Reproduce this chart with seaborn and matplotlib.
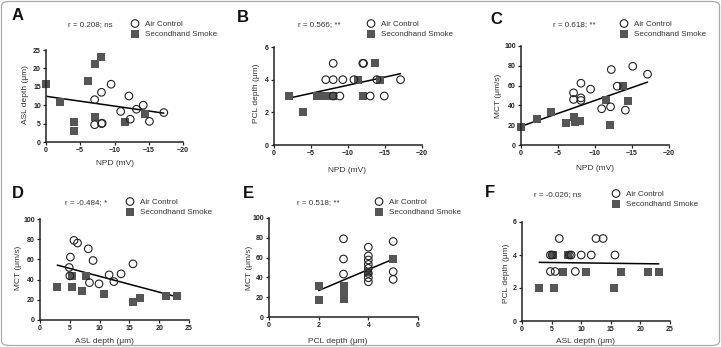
import matplotlib
matplotlib.use("Agg")
import matplotlib.pyplot as plt
import seaborn as sns
import pandas as pd
import numpy as np
from matplotlib.patches import FancyBboxPatch

# ---------------- data ----------------
# Panel A: NPD (mV) vs ASL depth (um)
A_air_x = [-7.1, -8.1, -9.5, -12.1, -10.9, -12.3, -13.2, -14.2, -15.1, -17.2, -7.1, -8.1, -8.2]
A_air_y = [11.5, 13.5, 15.7, 12.5, 8.3, 6.2, 8.9, 10.0, 5.6, 8.0, 4.7, 5.0, 5.1]
A_shs_x = [0.0, -2.1, -4.1, -4.1, -6.1, -7.1, -8.1, -7.1, -11.5, -14.5]
A_shs_y = [15.7, 10.8, 5.3, 2.9, 16.6, 21.1, 23.0, 6.9, 5.3, 7.7]

# Panel B: NPD (mV) vs PCL depth (um)
B_air_x = [-8.0, -12.0, -12.1, -7.0, -8.0, -9.3, -10.8, -13.9, -17.1, -8.9, -13.0, -14.9, -8.0]
B_air_y = [5, 5, 5, 4, 4, 4, 4, 4, 4, 3, 3, 3, 3]
B_shs_x = [-2.0, -5.8, -6.5, -7.2, -8.0, -12.0, -11.4, -14.3, -13.7, -3.9]
B_shs_y = [3, 3, 3, 3, 3, 3, 4, 4, 5, 2]

# Panel C: NPD (mV) vs MCT (um/s)
C_air_x = [-7.1, -7.1, -8.1, -8.1, -8.1, -9.4, -10.9, -12.1, -12.2, -13.0, -14.1, -15.1, -17.1]
C_air_y = [52.7, 46.0, 62.4, 47.6, 45.0, 56.4, 36.6, 38.6, 76.2, 59.4, 35.2, 79.5, 71.5]
C_shs_x = [0.0, -2.1, -4.0, -6.1, -7.1, -7.3, -8.0, -11.5, -12.0, -13.8, -14.5]
C_shs_y = [17.8, 25.8, 32.9, 21.8, 27.9, 23.5, 24.2, 45.3, 20.0, 59.4, 44.6]

# Panel D: ASL depth (um) vs MCT (um/s)
D_air_x = [5.7, 6.3, 8.1, 5.1, 8.9, 4.9, 5.0, 8.3, 9.9, 11.6, 12.4, 13.6, 15.6]
D_air_y = [78.8, 76.2, 70.5, 62.3, 58.9, 52.0, 43.7, 37.0, 35.8, 44.7, 38.0, 45.7, 55.6]
D_shs_x = [2.9, 5.3, 5.3, 7.0, 7.7, 10.8, 15.6, 16.7, 21.1, 23.0]
D_shs_y = [32.5, 32.5, 43.7, 29.1, 43.7, 25.8, 17.5, 21.5, 23.8, 23.8]

# Panel E: PCL depth (um) vs MCT (um/s)
E_air_x = [3, 3, 3, 4, 4, 4, 4, 4, 4, 4, 4, 5, 5, 5]
E_air_y = [79.0, 58.6, 43.4, 70.5, 61.7, 57.6, 53.2, 49.2, 44.0, 39.7, 35.6, 76.3, 45.8, 38.0]
E_shs_x = [2, 2, 3, 3, 3, 3, 3, 3, 4, 5]
E_shs_y = [31.5, 17.0, 31.0, 29.0, 27.0, 23.0, 21.0, 18.6, 45.0, 58.6]

# Panel F: ASL depth (um) vs PCL depth (um)
F_air_x = [6.3, 12.5, 13.7, 4.8, 5.1, 8.0, 8.3, 10.0, 11.7, 15.7, 4.8, 5.6, 9.0]
F_air_y = [5, 5, 5, 4, 4, 4, 4, 4, 4, 4, 3, 3, 3]
F_shs_x = [5.2, 7.7, 7.0, 10.8, 16.7, 21.2, 23.1, 2.9, 5.4, 15.6]
F_shs_y = [4, 4, 3, 3, 3, 3, 3, 2, 2, 2]

letters = ["A", "B", "C", "D", "E", "F"]
r_texts = ["r = 0.208; ns", "r = 0.566; **", "r = 0.618; **",
           "r = -0.484; *", "r = 0.518; **", "r = -0.026; ns"]
xlabels = ["NPD (mV)", "NPD (mV)", "NPD (mV)", "ASL depth (\u03bcm)", "PCL depth (\u03bcm)", "ASL depth (\u03bcm)"]
ylabels = ["ASL depth (\u03bcm)", "PCL depth (\u03bcm)", "MCT (\u03bcm/s)", "MCT (\u03bcm/s)", "MCT (\u03bcm/s)", "PCL depth (\u03bcm)"]
xticks = [[0, -5, -10, -15, -20]] * 3 + [[0, 5, 10, 15, 20, 25], [0, 2, 4, 6], [0, 5, 10, 15, 20, 25]]
yticks = [[0, 5, 10, 15, 20, 25], [0, 2, 4, 6], [0, 20, 40, 60, 80, 100],
          [0, 20, 40, 60, 80, 100], [0, 20, 40, 60, 80, 100], [0, 2, 4, 6]]
series = [(A_air_x, A_air_y, A_shs_x, A_shs_y), (B_air_x, B_air_y, B_shs_x, B_shs_y),
          (C_air_x, C_air_y, C_shs_x, C_shs_y), (D_air_x, D_air_y, D_shs_x, D_shs_y),
          (E_air_x, E_air_y, E_shs_x, E_shs_y), (F_air_x, F_air_y, F_shs_x, F_shs_y)]
group_names = ["Air Control", "Secondhand Smoke"]

# ---------------- layout (pixels) ----------------
W, H = 721, 347
sns.set_style("ticks")
plt.rcParams['font.family'] = ['Liberation Sans', 'DejaVu Sans']

fig = plt.figure(figsize=(W / 100, H / 100), dpi=100)

# axes boxes: left, right, top, bottom in pixels (y from top)
boxes = [(46, 183, 50, 142), (274, 422, 47, 145), (521, 669, 46, 145),
         (40, 189, 219, 320), (269, 418, 218, 317), (522, 670, 222, 321)]
xlab_pos = [(0.5, -0.196), (0.49, -0.224), (0.5, -0.2), (0.43, -0.178), (0.46, -0.21), (0.43, -0.17)]
ylab_pos = [(-0.124, 0.52), (-0.095, 0.53), (-0.128, 0.5), (-0.12, 0.52), (-0.107, 0.5), (-0.08, 0.48)]
letter_pos = [(12, 16), (237, 18), (490, 19), (12, 194), (243, 193), (485, 192)]
rtext_pos = [(68, 25), (298, 25), (553, 25), (65, 203), (297, 203), (534, 195)]
legend_pos = [(131, 20), (367, 20), (620, 20), (126, 198), (375, 198), (612, 190)]

def fx(px):
    return px / W

def fy(py):
    return 1 - py / H

txt_col = "#333333"
sq_col = "#555555"

for i in range(6):
    l, r, t, b = boxes[i]
    ax = fig.add_axes([fx(l), fy(b), (r - l) / W, (b - t) / H])
    ax_x, ax_y, sh_x, sh_y = series[i]
    df = pd.DataFrame({
        "x": list(ax_x) + list(sh_x),
        "y": list(ax_y) + list(sh_y),
        "group": [group_names[0]] * len(ax_x) + [group_names[1]] * len(sh_x),
    })
    sns.regplot(data=df, x="x", y="y", scatter=False, ci=None, truncate=True,
                line_kws=dict(color="black", lw=1.1, zorder=1), ax=ax)
    sns.scatterplot(data=df[df.group == group_names[0]], x="x", y="y", marker="o", s=30,
                    facecolor="none", edgecolor="#222222", linewidth=0.8, ax=ax,
                    clip_on=False, zorder=3, label=group_names[0])
    sns.scatterplot(data=df[df.group == group_names[1]], x="x", y="y", marker="s", s=26,
                    color=sq_col, edgecolor=sq_col, linewidth=0, ax=ax,
                    clip_on=False, zorder=2, label=group_names[1])
    xt = xticks[i]
    yt = yticks[i]
    ax.set_xticks(xt)
    ax.set_yticks(yt)
    ax.set_xlim(xt[0], xt[-1])
    ax.set_ylim(yt[0], yt[-1])
    sns.despine(ax=ax)
    for s in ["left", "bottom"]:
        ax.spines[s].set_linewidth(1.1)
        ax.spines[s].set_color("#222222")
    ax.tick_params(axis="both", length=2.2, width=0.9, pad=1.5, labelsize=5.0,
                   colors="#222222")
    for lab in ax.get_xticklabels() + ax.get_yticklabels():
        lab.set_fontweight("bold")
    ax.set_xlabel(xlabels[i], fontsize=6, color=txt_col)
    ax.set_ylabel(ylabels[i], fontsize=6, color=txt_col)
    ax.xaxis.set_label_coords(*xlab_pos[i])
    ax.yaxis.set_label_coords(*ylab_pos[i])
    lx, ly = legend_pos[i]
    ax.legend(loc="upper left", bbox_to_anchor=(fx(lx), fy(ly)), bbox_transform=fig.transFigure,
              frameon=False, fontsize=5.8, borderpad=0, borderaxespad=0, handlelength=1.0,
              handletextpad=0.7, labelspacing=0.35, labelcolor=txt_col)
    px, py = letter_pos[i]
    fig.text(fx(px), fy(py), letters[i], fontsize=12, fontweight="bold", ha="left", va="center",
             color="#111111")
    rx, ry = rtext_pos[i]
    fig.text(fx(rx), fy(ry), r_texts[i], fontsize=5.8, ha="left", va="center", color=txt_col)

border = FancyBboxPatch((fx(1.5), fy(345.5)), fx(718), (344 / H), boxstyle="round,pad=0,rounding_size=0.012",
                        transform=fig.transFigure, fill=False, edgecolor="#aaaaaa", lw=0.9)
fig.patches.append(border)

fig.savefig("out.png", dpi=100)
